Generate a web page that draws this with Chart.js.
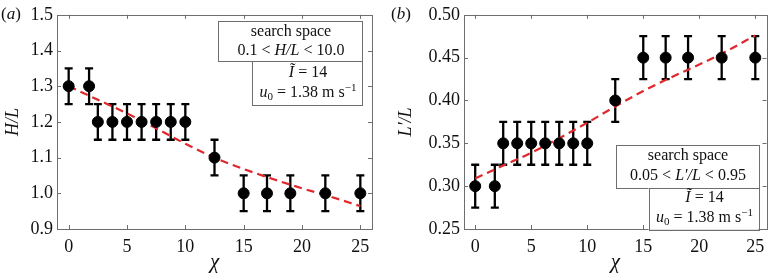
<!DOCTYPE html>
<html>
<head>
<meta charset="utf-8">
<script src="https://cdn.jsdelivr.net/npm/chart.js@4.4.1/dist/chart.umd.min.js"></script>
<style>
  html, body { margin: 0; padding: 0; background: #fff; }
  #wrap { position: relative; width: 773px; height: 277px; overflow: hidden; }
  #wrap canvas { position: absolute; top: 0; }
</style>
</head>
<body>
<div id="wrap">
  <canvas id="chart-a" width="386" height="277" style="left:0"></canvas>
  <canvas id="chart-b" width="387" height="277" style="left:386px"></canvas>
</div>
<script>
// ── Data ──
var chi      = [0, 1.75, 2.5, 3.75, 5, 6.25, 7.5, 8.75, 10, 12.5, 15, 17, 19, 22, 25];
var hOverL   = [1.3, 1.3, 1.2, 1.2, 1.2, 1.2, 1.2, 1.2, 1.2, 1.1, 1.0, 1.0, 1.0, 1.0, 1.0];
var hErr     = [0.05, 0.05, 0.05, 0.05, 0.05, 0.05, 0.05, 0.05, 0.05, 0.05, 0.05, 0.05, 0.05, 0.05, 0.05];
var lOverL   = [0.30, 0.30, 0.35, 0.35, 0.35, 0.35, 0.35, 0.35, 0.35, 0.40, 0.45, 0.45, 0.45, 0.45, 0.45];
var lErr     = [0.025, 0.025, 0.025, 0.025, 0.025, 0.025, 0.025, 0.025, 0.025, 0.025, 0.025, 0.025, 0.025, 0.025, 0.025];
var fitChi   = [0, 2.5, 5, 7.5, 10, 12.5, 15, 17.5, 20, 22.5, 25];
var fitH     = [1.300, 1.262, 1.224, 1.182, 1.139, 1.100, 1.068, 1.040, 1.014, 0.990, 0.964];
var fitL     = [0.309, 0.324, 0.339, 0.356, 0.374, 0.393, 0.411, 0.427, 0.442, 0.458, 0.476];
var xTicks   = [0, 5, 10, 15, 20, 25];
var yTicksA  = [0.9, 1.0, 1.1, 1.2, 1.3, 1.4, 1.5];
var yTicksB  = [0.25, 0.30, 0.35, 0.40, 0.45, 0.50];

var SERIF = "'Liberation Serif', 'DejaVu Serif', serif";
var AXIS_GREY = "#6e6e6e";
var FIT_RED = "#e0282c";

// rich text: segments {t, i (italic), sub, sup}
function _segFont(s, size) {
  var sz = (s.sub || s.sup) ? Math.round(size * 0.7) : size;
  return (s.i ? "italic " : "") + sz + "px " + SERIF;
}
function _richWidth(ctx, segs, size) {
  var w = 0;
  segs.forEach(function(s) { ctx.font = _segFont(s, size); w += ctx.measureText(s.t).width; });
  return w;
}
function _richText(ctx, segs, x, y, size, align) {
  var w = _richWidth(ctx, segs, size);
  var cx = align === "left" ? x : x - w / 2;
  ctx.textBaseline = "middle";
  ctx.textAlign = "left";
  ctx.fillStyle = "#111";
  segs.forEach(function(s) {
    ctx.font = _segFont(s, size);
    var dy = s.sub ? size * 0.28 : (s.sup ? -size * 0.32 : 0);
    ctx.fillText(s.t, cx, y + dy);
    cx += ctx.measureText(s.t).width;
  });
}

// ── Plugins ──
var frameTicks = {
  id: "frameTicks",
  afterDraw: function(chart) {
    var ctx = chart.ctx, a = chart.chartArea;
    var xs = chart.scales.x, ys = chart.scales.y;
    ctx.save();
    ctx.strokeStyle = AXIS_GREY;
    ctx.lineWidth = 1;
    ctx.strokeRect(Math.round(a.left) + 0.5, Math.round(a.top) + 0.5,
                   Math.round(a.right - a.left), Math.round(a.bottom - a.top));
    ctx.beginPath();
    xs.ticks.forEach(function(t) {
      var px = Math.round(xs.getPixelForValue(t.value)) + 0.5;
      ctx.moveTo(px, a.bottom); ctx.lineTo(px, a.bottom - 4);
      ctx.moveTo(px, a.top); ctx.lineTo(px, a.top + 4);
    });
    ys.ticks.forEach(function(t) {
      var py = Math.round(ys.getPixelForValue(t.value)) + 0.5;
      ctx.moveTo(a.left, py); ctx.lineTo(a.left + 4, py);
      ctx.moveTo(a.right, py); ctx.lineTo(a.right - 4, py);
    });
    ctx.stroke();
    ctx.restore();
  }
};

var errorBars = {
  id: "errorBars",
  beforeDatasetsDraw: function(chart, args, opts) {
    var ctx = chart.ctx, xs = chart.scales.x, ys = chart.scales.y;
    var xv = opts.x || [], yv = opts.y || [], ev = opts.err || [];
    ctx.save();
    ctx.strokeStyle = "#000";
    ctx.lineWidth = 2.3;
    ctx.beginPath();
    for (var i = 0; i < xv.length; i++) {
      var px = xs.getPixelForValue(xv[i]);
      var top = ys.getPixelForValue(yv[i] + ev[i]);
      var bot = ys.getPixelForValue(yv[i] - ev[i]);
      ctx.moveTo(px, top); ctx.lineTo(px, bot);
      ctx.moveTo(px - 4, top); ctx.lineTo(px + 4, top);
      ctx.moveTo(px - 4, bot); ctx.lineTo(px + 4, bot);
    }
    ctx.stroke();
    ctx.restore();
  }
};

var infoBoxes = {
  id: "infoBoxes",
  afterDraw: function(chart, args, opts) {
    var ctx = chart.ctx, a = chart.chartArea;
    ctx.save();
    (opts.boxes || []).forEach(function(b) {
      var x = a.right - b.right - b.w, y = a.top + b.top;
      ctx.fillStyle = "#fff";
      ctx.fillRect(x, y, b.w, b.h);
      ctx.strokeStyle = AXIS_GREY;
      ctx.lineWidth = 1;
      ctx.strokeRect(Math.round(x) + 0.5, Math.round(y) + 0.5, b.w, b.h);
      b.lines.forEach(function(ln, k) {
        _richText(ctx, ln, x + b.w / 2 + 1, y + b.lineY[k], 16, "center");
      });
    });
    if (opts.tag) _richText(ctx, opts.tag, opts.tagX, opts.tagY, 17, "left");
    ctx.restore();
  }
};

function _makeChart(id, cfg) {
  return new Chart(document.getElementById(id), {
    type: "scatter",
    data: {
      datasets: [
        {
          label: "estimate",
          data: cfg.px.map(function(x, i) { return { x: x, y: cfg.py[i] }; }),
          backgroundColor: "#000", borderColor: "#000",
          pointRadius: 5.5, pointHoverRadius: 5.5, showLine: false
        },
        {
          label: "fit",
          data: fitChi.map(function(x, i) { return { x: x, y: cfg.fit[i] }; }),
          type: "line", borderColor: FIT_RED, borderWidth: 2.2,
          borderDash: [8, 5], pointRadius: 0, fill: false,
          cubicInterpolationMode: "monotone"
        }
      ]
    },
    options: {
      responsive: false,
      animation: false,
      devicePixelRatio: 1,
      layout: { padding: { top: 7, right: cfg.padRight, left: 0, bottom: 0 } },
      plugins: {
        legend: { display: false },
        tooltip: { enabled: false },
        errorBars: { x: cfg.px, y: cfg.py, err: cfg.err },
        infoBoxes: { boxes: cfg.boxes, tag: cfg.tag, tagX: cfg.tagX, tagY: 15 }
      },
      scales: {
        x: {
          type: "linear", min: -1, max: 26,
          afterBuildTicks: function(s) { s.ticks = xTicks.map(function(v) { return { value: v }; }); },
          afterFit: function(s) { s.height = 48; },
          grid: { display: false, drawTicks: false },
          border: { display: false },
          ticks: { padding: 7, color: "#111", font: { family: SERIF, size: 18 } },
          title: {
            display: true, text: "\u03c7", color: "#111",
            font: { family: SERIF, size: 21, style: "italic" }, padding: { top: 0, bottom: 2 }
          }
        },
        y: {
          type: "linear", min: cfg.ymin, max: cfg.ymax,
          afterBuildTicks: function(s) { s.ticks = cfg.yTicks.map(function(v) { return { value: v }; }); },
          afterFit: function(s) { s.width = cfg.yWidth; },
          grid: { display: false, drawTicks: false },
          border: { display: false },
          ticks: {
            padding: 4, color: "#111", font: { family: SERIF, size: 18 },
            callback: function(v) { return v.toFixed(cfg.dec); }
          },
          title: {
            display: true, text: cfg.yTitle, color: "#111",
            font: { family: SERIF, size: 18, style: "italic" }, padding: { top: cfg.titlePad, bottom: 0 }
          }
        }
      }
    },
    plugins: [frameTicks, errorBars, infoBoxes]
  });
}

_makeChart("chart-a", {
  px: chi, py: hOverL, err: hErr, fit: fitH,
  ymin: 0.9, ymax: 1.5, yTicks: yTicksA, dec: 1,
  yWidth: 57, padRight: 14, titlePad: 2, yTitle: "H/L",
  tag: [{ t: "(" }, { t: "a", i: 1 }, { t: ")" }], tagX: 1,
  boxes: [
    { right: 10, w: 144, top: 6, h: 40, lineY: [11, 30],
      lines: [[{ t: "search space" }], [{ t: "0.1 < " }, { t: "H/L", i: 1 }, { t: " < 10.0" }]] },
    { right: 10, w: 110, top: 46, h: 44, lineY: [12, 32],
      lines: [[{ t: "\u0128", i: 1 }, { t: " = 14" }],
              [{ t: "u", i: 1 }, { t: "0", sub: 1 }, { t: " = 1.38 m s" }, { t: "\u22121", sup: 1 }]] }
  ]
});

_makeChart("chart-b", {
  px: chi, py: lOverL, err: lErr, fit: fitL,
  ymin: 0.25, ymax: 0.5, yTicks: yTicksB, dec: 2,
  yWidth: 78, padRight: 3, titlePad: 9, yTitle: "L\u2032/L",
  tag: [{ t: "(" }, { t: "b", i: 1 }, { t: ")" }], tagX: 5,
  boxes: [
    { right: 8, w: 143, top: 130, h: 43, lineY: [11, 31],
      lines: [[{ t: "search space" }], [{ t: "0.05 < " }, { t: "L\u2032/L", i: 1 }, { t: " < 0.95" }]] },
    { right: 8, w: 110, top: 173, h: 42, lineY: [10, 30],
      lines: [[{ t: "\u0128", i: 1 }, { t: " = 14" }],
              [{ t: "u", i: 1 }, { t: "0", sub: 1 }, { t: " = 1.38 m s" }, { t: "\u22121", sup: 1 }]] }
  ]
});
</script>
</body>
</html>
